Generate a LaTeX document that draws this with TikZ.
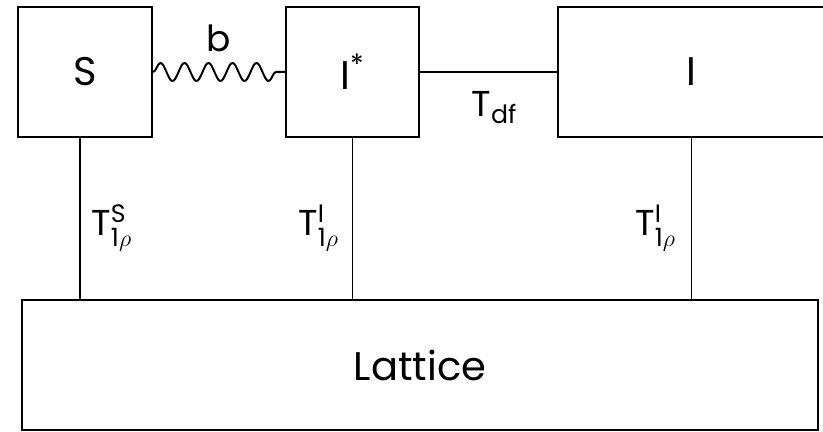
\documentclass[tikz,border=0pt]{standalone}
\usepackage{fontspec}
\usepackage{amsmath}
\setmainfont{Poppins}
\usetikzlibrary{positioning,decorations.pathmorphing}

\begin{document}
\begin{tikzpicture}[
    node distance=66pt,
    box/.style={rectangle, draw, line width=1pt, minimum width=67pt,
                minimum height=65pt, align=center, font=\fontsize{20}{24}\selectfont},
    link/.style={line width=0.8pt},
    wavy/.style={line width=1pt, decorate, decoration={snake, segment length=12pt, amplitude=4.5pt}},
    lbl/.style={font=\fontsize{18}{22}\selectfont},
  ]
    \useasboundingbox (-42.5pt,36pt) rectangle (369pt,-180pt);
    \node[box] (spinS) at (0,0) {S};
    \node[box, minimum width=66.5pt, right=66pt of spinS] (spinIstar) {I\textsuperscript{*}};
    \node[box, minimum width=133.5pt, right=68.5pt of spinIstar] (spinI) {I};
    \node[box, minimum width=398pt, anchor=north west,
          below right=80.5pt and 2pt of spinS.south west] (lattice) {Lattice};

    \draw[wavy] (spinS.east) -- node[lbl, above=6.5pt] {b} (spinIstar.west);
    \draw[link] (spinIstar.east) -- node[lbl, below=6pt, xshift=3pt] {T$_{\text{df}}$} (spinI.west);

    \draw[link] ([xshift=-2.5pt]spinS.south) -- ([xshift=-2.5pt]spinS.south |- lattice.north)
      node[lbl, pos=0.56, right=2pt] {T$^{\text{S}}_{\text{1}\rho}$};
    \draw[link] (spinIstar.south) -- (spinIstar.south |- lattice.north)
      node[lbl, pos=0.56, left=3pt] {T$^{\text{I}}_{\text{1}\rho}$};
    \draw[link] (spinI.south) -- (spinI.south |- lattice.north)
      node[lbl, pos=0.56, left=4pt] {T$^{\text{I}}_{\text{1}\rho}$};
  \end{tikzpicture}
\end{document}
